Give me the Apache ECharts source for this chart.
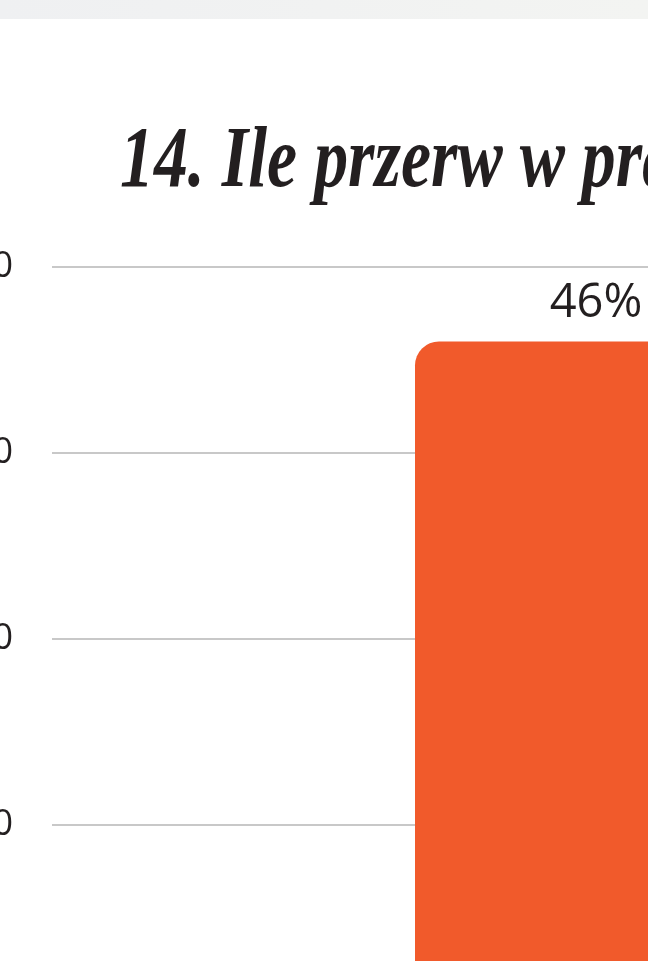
<!DOCTYPE html>
<html>
<head>
<meta charset="utf-8">
<script src="https://cdn.jsdelivr.net/npm/echarts@6/dist/echarts.min.js"></script>
<style>
html,body{margin:0;padding:0;width:648px;height:961px;overflow:hidden;background:#fff;}
#strip{position:absolute;left:0;top:0;width:648px;height:19px;background:linear-gradient(to right,#eff0f2,#f3f4f2);z-index:2;}
#chart{position:absolute;left:0;top:0;width:1200px;height:1300px;}
</style>
</head>
<body>
<div id="chart"></div>
<div id="strip"></div>
<script>
const titleText = "14. Ile przerw w pracy robisz?";
const categories = ["1"];
const values = [46];
const yMin = 0, yMax = 50, yStep = 10;

const chart = echarts.init(document.getElementById('chart'), null, {renderer:'canvas'});
chart.setOption({
  animation:false,
  backgroundColor:'#ffffff',
  graphic:[{
    type:'text', x:120, y:120, scaleX:0.78, scaleY:1,
    style:{text:titleText, font:'italic bold 87px "Liberation Serif"', fill:'#231f20', verticalAlign:'top', align:'left'}
  }],
  grid:{left:52, right:60, top:267, bottom:103, outerBoundsMode:'none', containLabel:false},
  xAxis:{
    type:'category', data:categories,
    axisLine:{show:false}, axisTick:{show:false},
    axisLabel:{show:true, fontFamily:'Open Sans', fontSize:36, color:'#231f20'}
  },
  yAxis:{
    type:'value', min:yMin, max:yMax, interval:yStep,
    axisLine:{show:false}, axisTick:{show:false},
    axisLabel:{margin:39, fontFamily:'Open Sans', fontSize:36, color:'#231f20'},
    splitLine:{lineStyle:{color:'#c8c8c8', width:2}}
  },
  series:[{
    type:'bar',
    data:values,
    barWidth:362,
    itemStyle:{color:'#f15a2b', borderRadius:[24,22,0,0]},
    label:{show:true, position:'top', distance:14, formatter:'{c}%', fontFamily:'Open Sans', fontSize:47, color:'#231f20'}
  }]
});
</script>
</body>
</html>
